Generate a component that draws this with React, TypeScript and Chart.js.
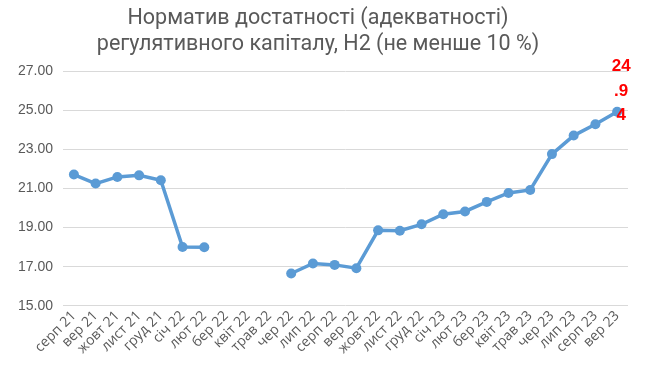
import React, { useEffect, useRef } from "react";
import { Chart, registerables } from "chart.js";

Chart.register(...registerables);

const titleLines = ["Норматив достатності (адекватності)", "регулятивного капіталу, Н2 (не менше 10 %)"];

const categories = [
  "серп 21", "вер 21", "жовт 21", "лист 21", "груд 21", "січ 22", "лют 22", "бер 22", "квіт 22", "трав 22",
  "чер 22", "лип 22", "серп 22", "вер 22", "жовт 22", "лист 22", "груд 22", "січ 23", "лют 23", "бер 23",
  "квіт 23", "трав 23", "чер 23", "лип 23", "серп 23", "вер 23",
];

const h2Values: (number | null)[] = [
  21.72, 21.26, 21.6, 21.68, 21.43, 18.01, 17.99, null, null, null,
  16.65, 17.16, 17.09, 16.92, 18.86, 18.84, 19.17, 19.69, 19.83, 20.32,
  20.78, 20.93, 22.77, 23.72, 24.3, 24.94,
];

const lastLabelLines = ["24", ".9", "4"];

const yMin = 15;
const yMax = 27;
const yStep = 2;

const lastLabelPlugin = {
  id: "lastLabel",
  afterDatasetsDraw(chart: any) {
    const meta = chart.getDatasetMeta(0);
    const pt = meta.data[meta.data.length - 1];
    if (!pt) return;
    const ctx = chart.ctx;
    ctx.save();
    ctx.fillStyle = "#ff0000";
    ctx.font = "bold 17px 'Liberation Sans', Arial, sans-serif";
    ctx.textAlign = "center";
    ctx.textBaseline = "middle";
    const offsets = [-45, -20, 4];
    lastLabelLines.forEach((t, i) => {
      ctx.fillText(t, pt.x + 4, pt.y + offsets[i]);
    });
    ctx.restore();
  },
};

export default function App() {
  const ref = useRef<HTMLCanvasElement>(null);
  useEffect(() => {
    if (!ref.current) return;
    const chart = new Chart(ref.current, {
      type: "line",
      data: {
        labels: categories,
        datasets: [
          {
            data: h2Values,
            borderColor: "#5b9bd5",
            backgroundColor: "#5b9bd5",
            borderWidth: 3.5,
            pointRadius: 5,
            pointHoverRadius: 5,
            pointBorderWidth: 0,
            pointBackgroundColor: "#5b9bd5",
            pointBorderColor: "#5b9bd5",
            spanGaps: false,
            tension: 0,
          },
        ],
      },
      options: {
        responsive: false,
        animation: false,
        layout: { padding: { left: 8, right: 17, top: 0, bottom: 28 } },
        plugins: {
          legend: { display: false },
          tooltip: { enabled: false },
          title: {
            display: true,
            text: titleLines,
            color: "#595959",
            font: { family: "Roboto, sans-serif", size: 21.5, weight: "normal" },
            lineHeight: 1.2,
            padding: { top: 6, bottom: 14 },
          },
        },
        scales: {
          x: {
            offset: true,
            grid: { display: false, drawTicks: false },
            border: { display: false },
            ticks: {
              autoSkip: false,
              maxRotation: 45,
              minRotation: 45,
              color: "#595959",
              font: { family: "'Open Sans', sans-serif", size: 14 },
              padding: 2,
            },
          },
          y: {
            min: yMin,
            max: yMax,
            grid: { color: "#d9d9d9", lineWidth: 1, drawTicks: false },
            border: { display: false },
            ticks: {
              stepSize: yStep,
              color: "#595959",
              font: { family: "'Liberation Sans', Arial, sans-serif", size: 14 },
              padding: 10,
              callback: (v: any) => Number(v).toFixed(2),
            },
          },
        },
      },
      plugins: [lastLabelPlugin],
    });
    return () => chart.destroy();
  }, []);
  return (
    <div style={{ position: "fixed", left: 0, top: 0, width: 645, height: 387, background: "#fff" }}>
      <canvas ref={ref} width={645} height={387} />
    </div>
  );
}
